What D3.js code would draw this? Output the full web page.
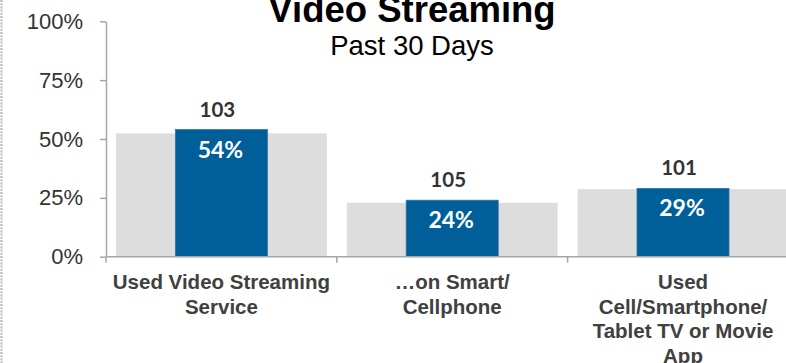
<!DOCTYPE html>
<html>
<head>
<meta charset="utf-8">
<script src="https://cdn.jsdelivr.net/npm/d3@7"></script>
<style>
  html, body { margin: 0; padding: 0; background: #fff; }
  svg { display: block; }
</style>
</head>
<body>
<svg id="chart" width="786" height="363"></svg>
<script>
// Video streaming reach, past 30 days, with index vs. benchmark
const categories = [
  "Used Video Streaming\nService",
  "…on Smart/\nCellphone",
  "Used\nCell/Smartphone/\nTablet TV or Movie\nApp"
];
const targetValues = [0.54, 0.24, 0.29];      // blue bars (labelled %)
const benchmarkValues = [0.524, 0.229, 0.287]; // grey background bars
const indexValues = [103, 105, 101];
const yTicks = [0, 0.25, 0.5, 0.75, 1];
const title = "Video Streaming";
const subtitle = "Past 30 Days";

const svg = d3.select("#chart");
const W = 786;

const plotLeft = 106, plotRight = 798.4, plotTop = 21.3, plotBottom = 256.7;

const x = d3.scaleBand().domain(categories).range([plotLeft, plotRight]).padding(0);
const y = d3.scaleLinear().domain([0, 1]).range([plotBottom, plotTop]);

// dotted frame edge on the left
svg.append("line")
  .attr("x1", 1.5).attr("x2", 1.5).attr("y1", 0).attr("y2", 363)
  .attr("stroke", "#c4c4c4").attr("stroke-width", 2.5).attr("stroke-dasharray", "2,1.2");

// benchmark bars
const greyInset = 10;
svg.append("g").selectAll("rect").data(categories).join("rect")
  .attr("x", d => x(d) + greyInset)
  .attr("width", x.bandwidth() - 2 * greyInset)
  .attr("y", (d, i) => y(benchmarkValues[i]))
  .attr("height", (d, i) => y(0) - y(benchmarkValues[i]))
  .attr("fill", "#dddddd");

// target bars
const blueW = 92;
svg.append("g").selectAll("rect").data(categories).join("rect")
  .attr("x", d => x(d) + x.bandwidth() / 2 - blueW / 2)
  .attr("width", blueW)
  .attr("y", (d, i) => y(targetValues[i]))
  .attr("height", (d, i) => y(0) - y(targetValues[i]))
  .attr("fill", "#005f99")
  .attr("stroke", "#2a76ad").attr("stroke-width", 0.8);

// value labels inside blue bars
svg.append("g").selectAll("text").data(categories).join("text")
  .attr("x", d => x(d) + x.bandwidth() / 2 - 1)
  .attr("y", (d, i) => y(targetValues[i]) + 28)
  .attr("text-anchor", "middle")
  .attr("font-family", "Lato, 'Open Sans', sans-serif")
  .attr("font-weight", "bold")
  .attr("font-size", 23)
  .attr("fill", "#ffffff")
  .text((d, i) => d3.format(".0%")(targetValues[i]));

// index labels above the bars
svg.append("g").selectAll("text").data(categories).join("text")
  .attr("x", d => x(d) + x.bandwidth() / 2 - 4)
  .attr("y", (d, i) => y(targetValues[i]) - 13)
  .attr("text-anchor", "middle")
  .attr("font-family", "Lato, 'Open Sans', sans-serif")
  .attr("font-weight", "bold")
  .attr("font-size", 20.5)
  .attr("fill", "#333333")
  .text((d, i) => indexValues[i]);

// y axis
const yAxis = svg.append("g")
  .attr("transform", `translate(${plotLeft},0)`)
  .call(d3.axisLeft(y).tickValues(yTicks).tickFormat(d3.format(".0%"))
    .tickSize(6).tickSizeOuter(0).tickPadding(17));
yAxis.select(".domain").attr("stroke", "#a6a6a6").attr("stroke-width", 1.5);
yAxis.selectAll(".tick line").attr("stroke", "#a6a6a6").attr("stroke-width", 1.5);
yAxis.selectAll(".tick text")
  .attr("font-family", "'Liberation Sans', Arial, sans-serif")
  .attr("font-size", 22)
  .attr("fill", "#333333");

// x axis baseline and category separators
const xAxis = svg.append("g");
xAxis.append("line")
  .attr("x1", plotLeft).attr("x2", W).attr("y1", y(0)).attr("y2", y(0))
  .attr("stroke", "#a6a6a6").attr("stroke-width", 1.5);
const boundaries = categories.map(c => x(c)).concat([x.range()[1]]);
xAxis.selectAll("line.sep").data(boundaries).join("line")
  .attr("class", "sep")
  .attr("x1", d => d).attr("x2", d => d)
  .attr("y1", y(0)).attr("y2", y(0) + 6)
  .attr("stroke", "#a6a6a6").attr("stroke-width", 1.5);

// category labels
const catG = xAxis.selectAll("text.cat").data(categories).join("text")
  .attr("class", "cat")
  .attr("text-anchor", "middle")
  .attr("font-family", "'Liberation Sans', Arial, sans-serif")
  .attr("font-weight", "bold")
  .attr("font-size", 20.5)
  .attr("fill", "#404040");
catG.each(function(d) {
  const t = d3.select(this);
  const cx = x(d) + x.bandwidth() / 2;
  d.split("\n").forEach((line, k) => {
    t.append("tspan").attr("x", cx).attr("y", 289 + k * 24.5).text(line);
  });
});

// titles
svg.append("text")
  .attr("x", 412).attr("y", 22)
  .attr("text-anchor", "middle")
  .attr("font-family", "'Liberation Sans', Arial, sans-serif")
  .attr("font-weight", "bold")
  .attr("font-size", 36.5)
  .attr("fill", "#000")
  .text(title);
svg.append("text")
  .attr("x", 412).attr("y", 55)
  .attr("text-anchor", "middle")
  .attr("font-family", "'Liberation Sans', Arial, sans-serif")
  .attr("font-size", 27.5)
  .attr("fill", "#000")
  .text(subtitle);
</script>
</body>
</html>
